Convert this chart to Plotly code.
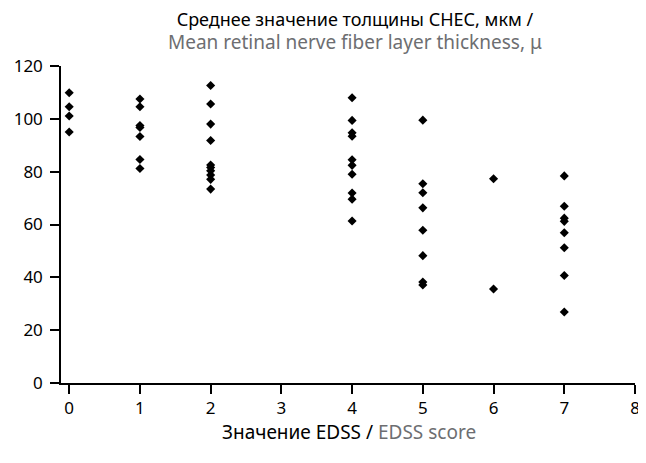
import plotly.graph_objects as go

edss = [0, 1, 2, 4, 5, 6, 7]
thickness = {
    0: [109.9, 104.6, 101.1, 95.0],
    1: [107.5, 104.6, 97.5, 96.7, 93.3, 84.6, 81.2],
    2: [112.6, 105.6, 98.0, 91.8, 82.5, 81.6, 80.3, 78.7, 77.1, 73.4],
    4: [108.0, 99.4, 94.7, 93.4, 84.5, 82.4, 79.0, 71.9, 69.6, 61.3],
    5: [99.5, 75.4, 72.0, 66.3, 57.8, 48.2, 38.2, 37.1],
    6: [77.3, 35.6],
    7: [78.4, 66.9, 62.4, 61.2, 56.9, 51.2, 40.7, 26.9],
}
x_ticks = [0, 1, 2, 3, 4, 5, 6, 7, 8]
y_ticks = [0, 20, 40, 60, 80, 100, 120]

xs, ys = [], []
for e in edss:
    for v in thickness[e]:
        xs.append(e)
        ys.append(v)

GRAY = "#6d6e71"
FONT = "Noto Sans"

fig = go.Figure(go.Scatter(
    x=xs, y=ys, mode="markers",
    marker=dict(symbol="diamond", size=7, color="black"),
    showlegend=False,
))

fig.update_layout(
    width=638, height=455,
    margin=dict(l=52, r=6, t=58, b=80),
    paper_bgcolor="white", plot_bgcolor="white",
    font=dict(family=FONT, size=17, color="black"),
    annotations=[
        dict(
            text=("Среднее значение толщины СНЕС, мкм /<br>"
                  "<span style='color:%s;font-size:19px'>Mean retinal nerve fiber layer thickness, μ</span>" % GRAY),
            xref="paper", yref="paper", x=0.512, y=1.0, yshift=35,
            xanchor="center", yanchor="middle", showarrow=False,
            font=dict(family=FONT, size=18, color="black"),
        ),
        dict(
            text="Значение EDSS / <span style='color:%s'>EDSS score</span>" % GRAY,
            xref="paper", yref="paper", x=0.502, y=0, yshift=-49,
            xanchor="center", yanchor="middle", showarrow=False,
            font=dict(family=FONT, size=19, color="black"),
        ),
    ],
)
fig.update_xaxes(
    range=[-0.116, 8.0], tickvals=x_ticks, ticktext=[str(t) for t in x_ticks],
    showgrid=False, zeroline=False, showline=True, linecolor="black", linewidth=1.5,
    ticks="outside", ticklen=9, tickwidth=1.5, tickcolor="black",
)
fig.update_yaxes(
    range=[0, 120], tickvals=y_ticks, ticktext=[str(t) for t in y_ticks],
    showgrid=False, zeroline=False, showline=True, linecolor="black", linewidth=1.5,
    ticks="outside", ticklen=9, tickwidth=1.5, tickcolor="black",
    ticklabelstandoff=4,
)

fig.write_html("out.html")
